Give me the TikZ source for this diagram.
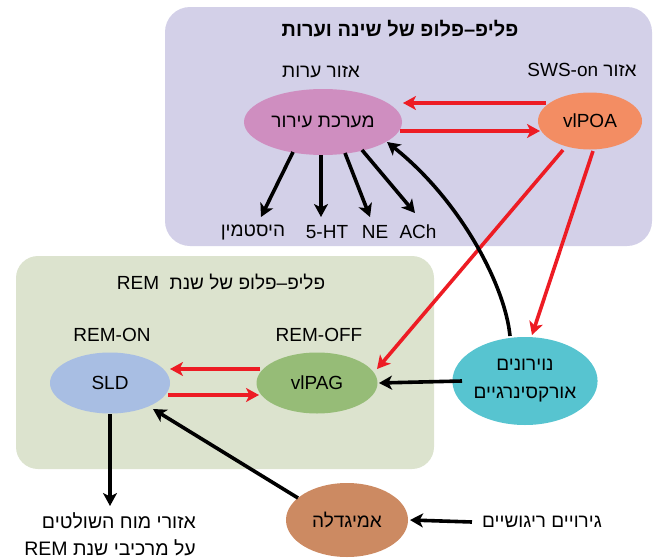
\documentclass[tikz,border=0pt]{standalone}
\usepackage{fontspec}
\setmainfont{Liberation Sans}
\newfontfamily\heb[Script=Hebrew]{Liberation Sans}
\TeXXeTstate=1
\usetikzlibrary{shapes.geometric,arrows.meta,calc}
\newcommand\R[1]{{\heb\beginR #1\endR}}
\definecolor{pbox}{RGB}{211,208,232}
\definecolor{gbox}{RGB}{220,227,206}
\definecolor{carous}{RGB}{207,142,192}
\definecolor{cvlpoa}{RGB}{243,141,99}
\definecolor{csld}{RGB}{168,190,227}
\definecolor{cvlpag}{RGB}{150,188,119}
\definecolor{corx}{RGB}{87,196,208}
\definecolor{camy}{RGB}{204,138,98}
\definecolor{cred}{RGB}{237,28,36}
\begin{document}
\begin{tikzpicture}[x=1pt,y=-1pt,
  ell/.style={ellipse,inner sep=0pt,font=\fontsize{19}{22}\selectfont},
  lbl/.style={inner sep=0pt,font=\fontsize{19}{22}\selectfont},
  redarr/.style={draw=cred,line width=3.6pt,-{Stealth[length=13pt,width=14pt,inset=3.5pt]}},
  blkarr/.style={draw=black,line width=3.6pt,-{Stealth[length=13pt,width=14pt,inset=3.5pt]}}]
\useasboundingbox (0,0) rectangle (657,560);
\fill[pbox,rounded corners=25pt] (165,7) rectangle (652,246);
\fill[gbox,rounded corners=22pt] (16,256) rectangle (434,469);

\node[inner sep=0pt,font=\fontsize{20}{22}\selectfont\bfseries] (t1) at (400,29) {\R{פליפ–פלופ של שינה וערות}};
\node[lbl] (wake) at (321,72) {\R{אזור ערות}};
\node[lbl] (swson) at (582,70) {\R{אזור \beginL SWS-on\endL}};

\node[ell,fill=carous,minimum width=158pt,minimum height=66pt] (ar) at (323,122) {\R{מערכת עירור}};
\node[ell,fill=cvlpoa,minimum width=104pt,minimum height=57pt] (vlpoa) at (590,121) {vlPOA};

\node[lbl] (hist) at (253,232) {\R{היסטמין}};
\node[lbl] (ht) at (327,232) {5-HT};
\node[lbl] (ne) at (375,232) {NE};
\node[lbl] (ach) at (418,232) {ACh};

\node[lbl] (t2) at (221,282) {\R{פליפ–פלופ של שנת \ \beginL REM\endL}};
\node[lbl] (remon) at (112,335) {REM-ON};
\node[lbl] (remoff) at (319,335) {REM-OFF};

\node[ell,fill=csld,minimum width=120pt,minimum height=61pt] (sld) at (110,383) {SLD};
\node[ell,fill=cvlpag,minimum width=121pt,minimum height=61pt] (vlpag) at (317,383) {vlPAG};
\node[ell,fill=corx,minimum width=130pt,minimum height=88pt,align=center,font=\fontsize{19}{28}\selectfont] (orx) at (525,381) {\R{נוירונים}\\\R{אורקסינרגיים}};
\node[ell,fill=camy,minimum width=122pt,minimum height=74pt] (amy) at (347,520) {\R{אמיגדלה}};

\node[lbl,anchor=east,align=right,font=\fontsize{19.5}{27}\selectfont] (brain) at (196,534.5) {\R{אזורי מוח השולטים}\\\R{על מרכיבי שנת \beginL REM\endL}};
\node[lbl] (stim) at (542,522) {\R{גירויים ריגושיים}};

% red arrows
\draw[redarr] ($(vlpoa)+(-44,-18)$) -- ($(ar)+(80,-19)$);
\draw[redarr] ($(ar)+(77,9)$) -- ($(vlpoa)+(-50,10)$);
\draw[redarr] ($(vlpag)+(-57,-14)$) -- ($(sld)+(60,-14)$);
\draw[redarr] ($(sld)+(58,12)$) -- ($(vlpag)+(-58,12)$);
\draw[redarr] ($(vlpoa)+(-27,29)$) -- ($(vlpag)+(60,-14)$);
\draw[redarr] ($(vlpoa)+(3,30)$) -- ($(orx)+(7,-46)$);

% black arrows
\draw[blkarr] ($(ar)+(-30,30)$) -- ($(hist)+(8,-15)$);
\draw[blkarr] ($(ar)+(-2,33)$) -- ($(ht)+(-6,-15)$);
\draw[blkarr] ($(ar)+(22,31)$) -- ($(ne)+(-5,-15)$);
\draw[blkarr] ($(ar)+(39,28)$) -- ($(ach)+(-3,-19)$);
\draw[blkarr] ($(orx)+(-63,0)$) -- ($(vlpag)+(62,0)$);
\draw[blkarr] ($(orx)+(-15,-45)$) .. controls (505,285) and (460,200) .. ($(ar)+(64,20)$);
\draw[blkarr] ($(amy)+(-49,-22)$) -- ($(sld)+(43,26)$);
\draw[blkarr] ($(sld)+(0,31)$) -- ($(sld)+(0,123)$);
\draw[blkarr] ($(stim.west)+(-10,0)$) -- ($(amy)+(63,0)$);
\end{tikzpicture}
\end{document}
